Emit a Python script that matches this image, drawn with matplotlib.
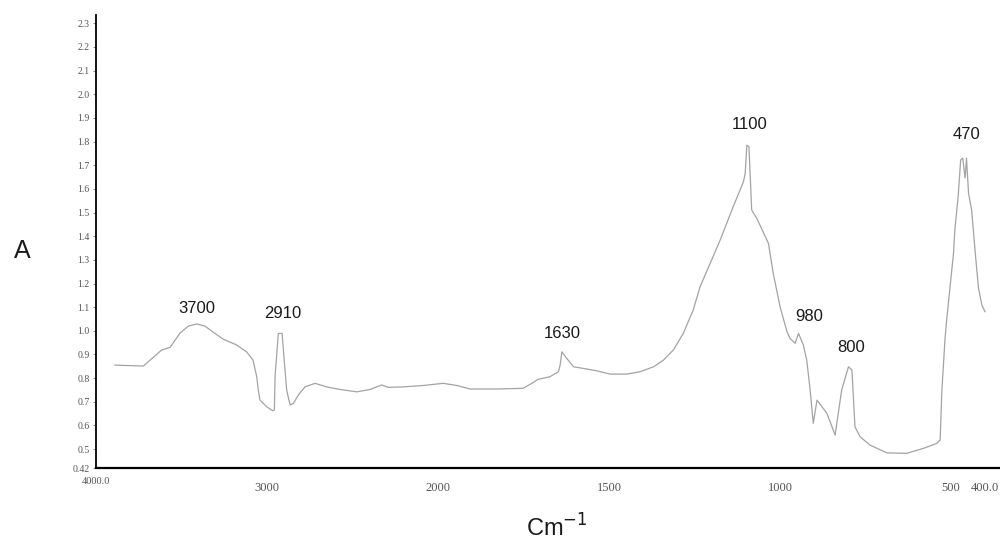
import numpy as np
import matplotlib
matplotlib.use("Agg")
import matplotlib.pyplot as plt
import matplotlib.transforms as mtransforms

# ---------------- data ----------------
wavenumber = [3889, 3723, 3684, 3616, 3567, 3509, 3460, 3411, 3363, 3316,
              3257, 3177, 3119, 3082, 3060, 3051, 3041, 3002, 2967, 2957,
              2953, 2934, 2912, 2901, 2885, 2865, 2846, 2817, 2778, 2719,
              2651, 2573, 2475, 2398, 2329, 2291, 2203, 2086, 1985, 1945,
              1906, 1828, 1751, 1726, 1707, 1673, 1648, 1643, 1638, 1624,
              1604, 1575, 1536, 1497, 1448, 1409, 1370, 1341, 1312, 1283,
              1254, 1234, 1175, 1137, 1107, 1102, 1097, 1091, 1083, 1068,
              1034, 1020, 1000, 980, 971, 956, 946, 932, 922, 912,
              903, 892, 863, 839, 820, 800, 790, 781, 766, 737,
              688, 630, 581, 542, 532, 527, 518, 513, 493, 489,
              479, 472, 466, 459, 455, 449, 440, 435, 430, 420,
              410, 401]
absorbance = [0.855, 0.851, 0.876, 0.919, 0.930, 0.990, 1.020, 1.029, 1.020, 0.995,
              0.965, 0.940, 0.911, 0.876, 0.806, 0.749, 0.707, 0.679, 0.662, 0.665,
              0.806, 0.989, 0.989, 0.890, 0.749, 0.686, 0.693, 0.728, 0.763, 0.778,
              0.763, 0.752, 0.742, 0.752, 0.771, 0.761, 0.763, 0.769, 0.778, 0.769,
              0.754, 0.754, 0.757, 0.778, 0.795, 0.806, 0.827, 0.855, 0.911, 0.884,
              0.848, 0.841, 0.831, 0.817, 0.817, 0.827, 0.848, 0.876, 0.919, 0.989,
              1.088, 1.186, 1.384, 1.525, 1.630, 1.666, 1.785, 1.778, 1.511, 1.475,
              1.370, 1.243, 1.102, 0.997, 0.968, 0.947, 0.989, 0.940, 0.876, 0.749,
              0.609, 0.707, 0.651, 0.559, 0.749, 0.848, 0.834, 0.594, 0.552, 0.517,
              0.484, 0.482, 0.503, 0.524, 0.538, 0.745, 0.961, 1.045, 1.327, 1.426,
              1.574, 1.722, 1.730, 1.646, 1.730, 1.582, 1.511, 1.426, 1.341, 1.181,
              1.109, 1.081]

peak_labels = ["3700", "2910", "1630", "1100", "980", "800", "470"]
peak_x = [3409, 2909, 1637, 1088, 915, 792, 456]
peak_y = [1.096, 1.074, 0.989, 1.874, 1.059, 0.929, 1.828]

x_ticks = [4000, 3000, 2000, 1500, 1000, 500, 400]
x_tick_labels = ["4000.0", "3000", "2000", "1500", "1000", "500", "400.0"]
y_ticks = [0.42, 0.5, 0.6, 0.7, 0.8, 0.9, 1.0, 1.1, 1.2, 1.3, 1.4, 1.5,
           1.6, 1.7, 1.8, 1.9, 2.0, 2.1, 2.2, 2.3]
y_tick_labels = ["0.42", "0.5", "0.6", "0.7", "0.8", "0.9", "1.0", "1.1", "1.2",
                 "1.3", "1.4", "1.5", "1.6", "1.7", "1.8", "1.9", "2.0", "2.1",
                 "2.2", "2.3"]


# two-speed wavenumber axis (scale halves above 2000 cm-1)
def forward(w):
    w = np.asarray(w, dtype=float)
    return np.where(w > 2000, 2000 + (w - 2000) * 0.5, w)


def inverse(u):
    u = np.asarray(u, dtype=float)
    return np.where(u > 2000, 2000 + (u - 2000) * 2.0, u)


fig = plt.figure(figsize=(10, 5.42), dpi=100)
ax = fig.add_axes([0.096, 0.1365, 0.904, 0.8358])
ax.set_xscale("function", functions=(forward, inverse))

ax.plot(wavenumber, absorbance, color="#a3a3a3", lw=0.9)

ax.set_xlim(4000, 357)
ax.set_ylim(0.42, 2.335)

for s in ("top", "right"):
    ax.spines[s].set_visible(False)
ax.spines["left"].set_linewidth(1.3)
ax.spines["bottom"].set_linewidth(1.6)

ax.set_xticks(x_ticks)
ax.set_xticklabels(x_tick_labels, family="Liberation Serif", fontsize=9,
                   color="#555555")
ax.set_yticks(y_ticks)
ax.set_yticklabels(y_tick_labels, family="Liberation Serif", fontsize=7,
                   color="#555555")
ax.minorticks_off()
ax.tick_params(axis="x", length=0, pad=10)
ax.tick_params(axis="y", length=2.5, width=0.6, color="#777777", pad=2)

# the first x label sits higher and smaller in the reference
lab0 = ax.get_xticklabels()[0]
lab0.set_fontsize(7.5)
lab0.set_transform(lab0.get_transform() +
                   mtransforms.ScaledTranslation(0, 3.5 / 72, fig.dpi_scale_trans))

for t, x, y in zip(peak_labels, peak_x, peak_y):
    ax.text(x, y, t, ha="center", va="center", fontsize=12,
            family="Liberation Sans", color="#1a1a1a")

fig.text(0.022, 1 - 258 / 542, "A", ha="center", va="baseline",
         fontsize=18, family="Liberation Sans", color="#1a1a1a")
fig.text(0.557, 1 - 537 / 542, "Cm$^{-1}$", ha="center", va="baseline",
         fontsize=17, family="Liberation Sans", color="#1a1a1a")

fig.savefig("out.png", dpi=100)
